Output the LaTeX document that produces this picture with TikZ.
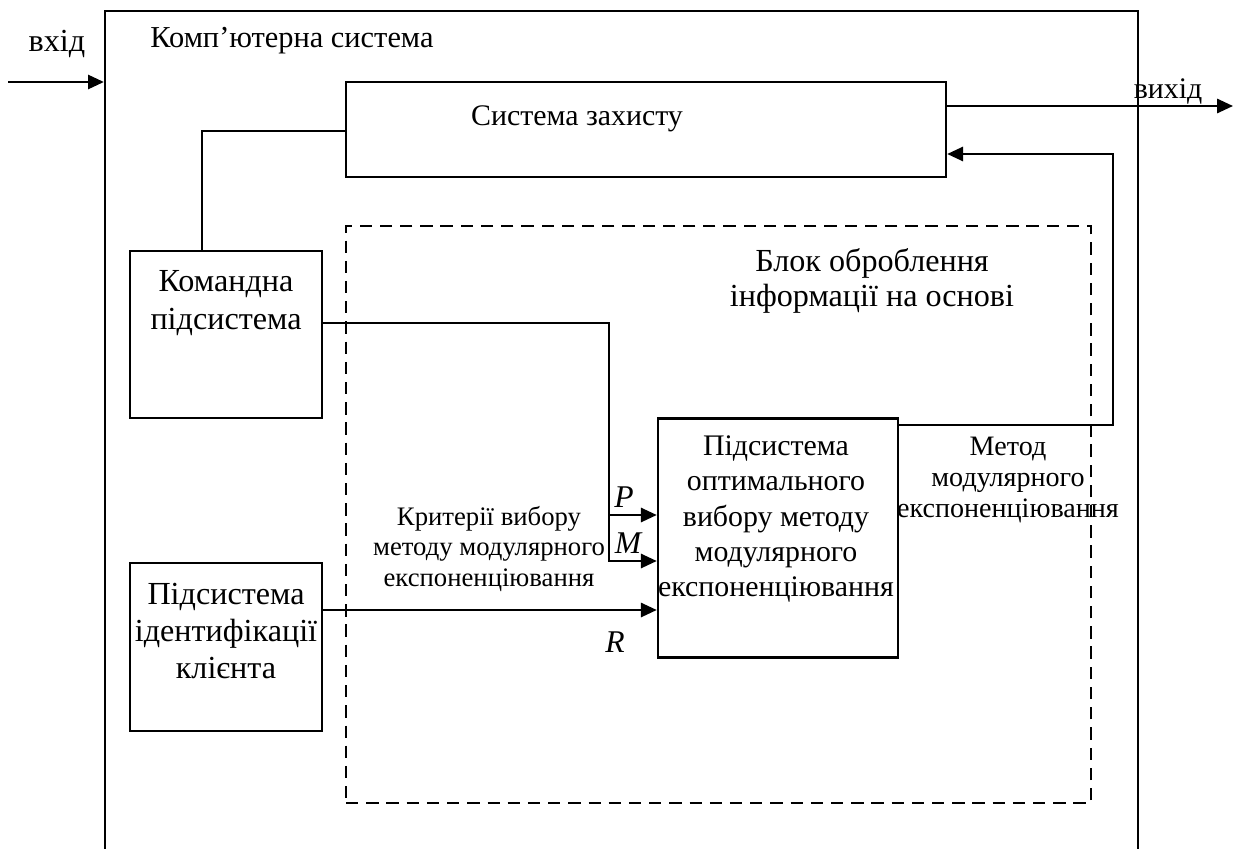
\documentclass[tikz,border=0pt]{standalone}
\usepackage{fontspec}
\setmainfont{Liberation Serif}
\usetikzlibrary{calc}
\usetikzlibrary{arrows.meta}

\begin{document}
\begin{tikzpicture}[x=0.02cm, y=-0.02cm, line join = miter, >={Triangle[length=9pt,width=8pt]}]
\tikzstyle{block}=[draw=black, line width=1.4pt, inner sep=0pt]
\tikzstyle{txt}=[align=center, inner sep=0pt, font=\fontsize{17}{20}\selectfont]
\tikzstyle{bigtxt}=[align=center, inner sep=0pt, font=\fontsize{18.3}{21.2}\selectfont]
\tikzstyle{small}=[align=center, inner sep=0pt, font=\fontsize{16}{17.6}\selectfont]
\tikzstyle{smaller}=[align=center, inner sep=0pt, font=\fontsize{15.2}{17.6}\selectfont]
\tikzstyle{var}=[inner sep=0pt, font=\fontsize{18}{20}\selectfont\itshape]
\tikzstyle{wire}=[line width=1.4pt]
\clip (0,0) rectangle (1236,848);

\node[block, minimum width=20.66cm, minimum height=17.18cm] (outer) at (621.5,440.5) {};
\node[block, minimum width=12cm, minimum height=1.9cm] (sys) at (646,129.5) {};
\node[block, minimum width=3.84cm, minimum height=3.34cm] (cmd) at (226,334.5) {};
\node[block, minimum width=3.84cm, minimum height=3.36cm] (ident) at (226,647) {};
\node[block, minimum width=4.8cm, minimum height=4.78cm] (opt) at (778,538) {};
\node[block, dashed, dash pattern=on 7pt off 4.5pt, minimum width=14.9cm, minimum height=11.54cm] (proc) at (718.5,514.5) {};

\node[bigtxt] (inlabel) at (57,44) {вхід};
\node[txt, font=\fontsize{17.3}{20}\selectfont, anchor=west] (title) at (150,41) {Комп’ютерна система};
\node[txt] (syslabel) at (577,119) {Система захисту};
\node[txt] (outlabel) at (1168,91) {вихід};
\node[bigtxt, font=\fontsize{18.3}{20}\selectfont] (proclabel) at (872,281) {Блок оброблення\\інформації на основі};
\node[bigtxt] (cmdlabel) at (226,303) {Командна\\підсистема};
\node[bigtxt] (identlabel) at (226,631) {Підсистема\\ідентифікації\\клієнта};
\node[txt] (optlabel) at (776,519) {Підсистема\\оптимального\\вибору методу\\модулярного\\експоненціювання};
\node[smaller] (critlabel) at (489,549) {Критерії вибору\\методу модулярного\\експоненціювання};
\node[small] (methlabel) at (1008,480) {Метод\\модулярного\\експоненціювання};

\coordinate (in) at (8,82);
\coordinate (out) at (1233,106);
\coordinate (fb) at (1113,154);
\coordinate (split) at (609,515);

\draw[wire,->] (in) -- (outer.west |- in);
\draw[wire,->] (sys.east |- out) -- (out);
\draw[wire,->] (opt.east |- 0,425) -| (fb) -- (sys.east |- fb);
\draw[wire] (sys.west |- 0,131) -| (cmd.north -| 202,0);
\draw[wire,->] (cmd.east |- 0,323) -| (split) -- (opt.west |- split);
\draw[wire,->] (split) |- (opt.west |- 0,561);
\draw[wire,->] (ident.east |- 0,610) -- (opt.west |- 0,610);
\node[var] (P) at (624,497) {P};
\node[var] (M) at (628,543) {M};
\node[var] (R) at (615,642) {R};
\end{tikzpicture}
\end{document}
